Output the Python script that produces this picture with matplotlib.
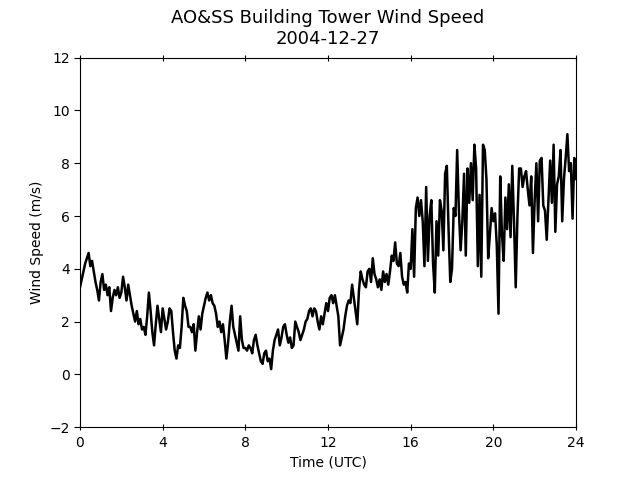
import numpy as np
import matplotlib
matplotlib.use('Agg')
import matplotlib.pyplot as plt

# wind speed (m/s), 5-minute samples in 4-hour blocks
speed_00_04 = [3.3, 3.6, 3.9, 4.2, 4.4, 4.6, 4.1, 4.3, 3.9, 3.5, 3.2, 2.8,
               3.5, 3.8, 3.2, 3.4, 3.0, 3.3, 2.4, 2.9, 3.2, 3.0, 3.3, 2.9,
               3.1, 3.7, 3.3, 2.8, 3.4, 3.0, 2.6, 2.3, 2.0, 2.4, 1.9, 2.1,
               1.7, 1.8, 1.5, 2.2, 3.1, 2.4, 1.6, 1.1, 1.9, 2.6, 2.1, 1.6]
speed_04_08 = [2.5, 2.1, 1.7, 2.0, 2.5, 2.4, 1.6, 0.9, 0.6, 1.1, 1.0, 1.8,
               2.9, 2.6, 2.4, 1.8, 1.8, 1.6, 1.9, 0.9, 1.6, 2.2, 1.7, 2.3,
               2.6, 2.9, 3.1, 2.8, 3.0, 2.7, 2.6, 2.3, 1.8, 2.0, 1.6, 1.9,
               1.3, 0.6, 1.2, 2.0, 2.6, 1.8, 1.5, 1.2, 0.9, 2.2, 1.3, 1.0]
speed_08_12 = [1.0, 0.9, 1.1, 1.0, 0.8, 1.3, 1.5, 1.1, 0.8, 0.5, 0.4, 0.8,
               0.9, 0.5, 0.6, 0.2, 0.9, 1.3, 1.5, 1.7, 1.1, 1.4, 1.8, 1.9,
               1.5, 1.2, 1.4, 1.0, 1.1, 2.0, 1.8, 1.6, 1.3, 1.5, 1.7, 2.0,
               2.1, 2.4, 2.5, 2.2, 2.5, 2.4, 2.0, 1.7, 2.2, 1.9, 2.3, 2.7]
speed_12_16 = [2.4, 2.9, 3.0, 2.7, 3.0, 2.6, 2.2, 1.1, 1.4, 1.7, 2.2, 2.6,
               2.8, 2.7, 3.4, 2.9, 2.4, 1.9, 3.2, 3.9, 3.6, 3.4, 3.3, 3.9,
               4.0, 3.5, 4.4, 3.8, 3.6, 3.3, 3.6, 3.2, 3.9, 3.5, 3.8, 3.4,
               3.9, 4.5, 4.3, 5.0, 4.2, 4.1, 4.6, 3.7, 3.4, 3.5, 3.1, 4.2]
speed_16_20 = [4.0, 5.5, 3.7, 6.3, 6.7, 6.0, 6.6, 5.8, 4.1, 7.1, 4.3, 6.0,
               6.6, 4.2, 3.1, 5.8, 4.5, 6.6, 6.2, 4.7, 7.6, 7.9, 5.5, 3.5,
               4.0, 6.3, 6.0, 8.5, 6.2, 4.7, 5.8, 7.6, 4.5, 7.8, 6.5, 8.0,
               6.6, 8.7, 7.8, 4.1, 6.8, 3.7, 8.7, 8.5, 7.4, 4.4, 5.3, 6.3]
speed_20_24 = [5.8, 6.1, 4.9, 2.3, 7.5, 5.3, 4.3, 6.7, 5.5, 7.2, 5.2, 7.9,
               5.8, 3.3, 6.0, 7.8, 7.8, 7.1, 7.5, 7.7, 7.0, 6.4, 7.5, 4.6,
               6.6, 8.0, 5.8, 8.1, 8.2, 6.4, 6.2, 5.1, 6.6, 8.1, 6.5, 8.7,
               5.4, 7.2, 7.5, 8.5, 5.8, 7.4, 8.2, 9.1, 7.7, 8.0, 5.9, 8.2,
               7.4]

speed = np.array(speed_00_04 + speed_04_08 + speed_08_12 +
                 speed_12_16 + speed_16_20 + speed_20_24)
hours = np.arange(len(speed)) * 5 / 60.0

fig = plt.figure(figsize=(6.4, 4.8), dpi=100)
ax = fig.add_subplot(1, 1, 1)

ax.plot(hours, speed, color='black', linewidth=1.8)

ax.set_xlim(0, 24)
ax.set_ylim(-2, 12)
ax.set_xticks(range(0, 25, 4))
ax.set_yticks(range(-2, 13, 2))
ax.tick_params(axis='x', direction='inout', top=True, length=5)
ax.tick_params(axis='y', direction='out', length=4)

ax.set_xlabel('Time (UTC)')
ax.set_ylabel('Wind Speed (m/s)')
ax.set_title('AO&SS Building Tower Wind Speed\n2004-12-27', fontsize=13, pad=10)

fig.savefig('out.png', dpi=100)
